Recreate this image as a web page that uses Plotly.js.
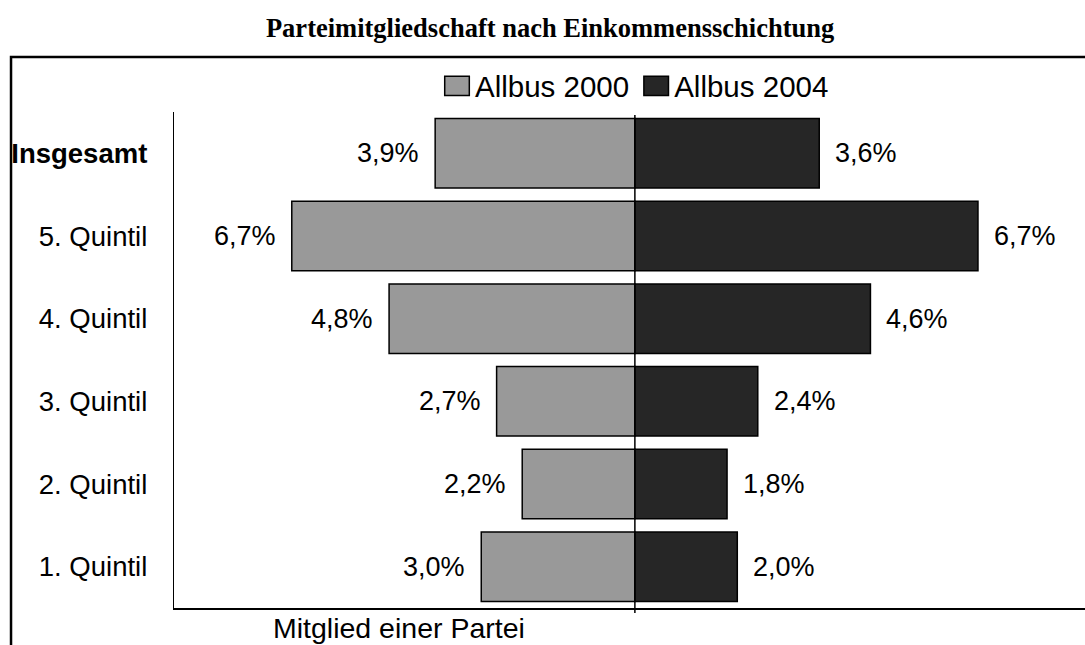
<!DOCTYPE html>
<html>
<head>
<meta charset="utf-8">
<script src="https://cdn.plot.ly/plotly-3.0.1.min.js"></script>
<style>html,body{margin:0;padding:0;background:#fff;}#chart{width:1085px;height:645px;}</style>
</head>
<body>
<div id="chart"></div>
<script>
const categories = ["Insgesamt", "5. Quintil", "4. Quintil", "3. Quintil", "2. Quintil", "1. Quintil"];
const tickLabels = ["<b>Insgesamt</b>", "5. Quintil", "4. Quintil", "3. Quintil", "2. Quintil", "1. Quintil"];
const allbus2000 = [3.9, 6.7, 4.8, 2.7, 2.2, 3.0];
const allbus2004 = [3.6, 6.7, 4.6, 2.4, 1.8, 2.0];
const seriesNames = ["Allbus 2000", "Allbus 2004"];

const fmt = v => v.toFixed(1).replace('.', ',') + '%';
const FONT = 'Liberation Sans, Arial, sans-serif';

const traces = [
  {
    type: 'bar', orientation: 'h', name: seriesNames[0],
    y: categories, x: allbus2000.map(v => -v),
    marker: {color: '#999999', line: {color: '#000000', width: 1.5}},
    hoverinfo: 'skip'
  },
  {
    type: 'bar', orientation: 'h', name: seriesNames[1],
    y: categories, x: allbus2004,
    marker: {color: '#262626', line: {color: '#000000', width: 1.5}},
    hoverinfo: 'skip'
  }
];

const annotations = [];
categories.forEach((c, i) => {
  annotations.push({x: -allbus2000[i], y: c, xref: 'x', yref: 'y', text: fmt(allbus2000[i]),
    showarrow: false, xanchor: 'right', xshift: -14, font: {family: FONT, size: 27, color: '#000'}});
  annotations.push({x: allbus2004[i], y: c, xref: 'x', yref: 'y', text: fmt(allbus2004[i]),
    showarrow: false, xanchor: 'left', xshift: 14, font: {family: FONT, size: 27, color: '#000'}});
});
annotations.push({x: 0.1065, y: -0.041, xref: 'paper', yref: 'paper', text: 'Mitglied einer Partei',
  showarrow: false, xanchor: 'left', yanchor: 'middle', font: {family: FONT, size: 28.5, color: '#000'}});

const layout = {
  width: 1085, height: 645,
  paper_bgcolor: '#ffffff', plot_bgcolor: '#ffffff',
  margin: {l: 174, r: 0, t: 112, b: 37},
  barmode: 'overlay', bargap: 0.16,
  showlegend: true,
  title: {text: 'Parteimitgliedschaft nach Einkommensschichtung', xref: 'container', x: 0.507, xanchor: 'center',
    yref: 'container', y: 0.957, yanchor: 'middle',
    font: {family: 'Liberation Serif, Times New Roman, serif', size: 26.5, color: '#000', weight: 'bold'}},
  legend: {orientation: 'h', x: 0.5055, xanchor: 'center', y: 1.052, yanchor: 'middle',
    font: {family: FONT, size: 29.5, color: '#000'}, bgcolor: 'rgba(0,0,0,0)', traceorder: 'normal',
    itemwidth: 30},
  xaxis: {range: [-9, 8.79], showgrid: false, zeroline: false, showticklabels: false, ticks: '',
    showline: true, linecolor: '#000', linewidth: 1.5, fixedrange: true},
  yaxis: {type: 'category', categoryorder: 'array', categoryarray: categories, autorange: 'reversed',
    tickvals: categories, ticktext: tickLabels, showgrid: false, zeroline: false, ticks: '',
    showline: true, linecolor: '#000', linewidth: 1.2, ticklabelstandoff: 20,
    tickfont: {family: FONT, size: 27.5, color: '#000'}, fixedrange: true},
  shapes: [
    {type: 'line', xref: 'x', yref: 'paper', x0: 0, x1: 0, y0: -0.01, y1: 0.994, line: {color: '#000', width: 1.5}},
    {type: 'rect', xref: 'paper', yref: 'paper', x0: -0.1789, x1: 1.01, y0: -0.1, y1: 1.111,
      line: {color: '#000', width: 2.5}, fillcolor: 'rgba(0,0,0,0)', layer: 'above'}
  ],
  annotations: annotations
};

Plotly.newPlot('chart', traces, layout, {displayModeBar: false, staticPlot: true}).then(gd => {
  // enlarge legend swatches to match the reference's larger square keys
  gd.querySelectorAll('.legend .legendpoints path').forEach(p => {
    p.setAttribute('transform', 'translate(22,0) scale(2.05,1.6)');
    p.style.vectorEffect = 'non-scaling-stroke';
    p.style.strokeWidth = '1.5px';
    p.style.stroke = '#000';
  });
});
</script>
</body>
</html>
